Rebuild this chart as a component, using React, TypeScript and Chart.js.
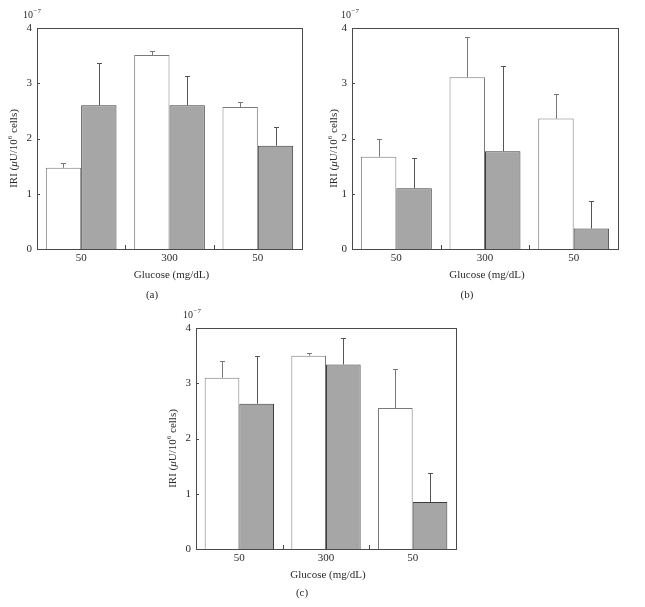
import React, { useEffect, useRef } from "react";
import { Chart, registerables } from "chart.js";

Chart.register(...registerables);

const FONT = '"Liberation Serif", "DejaVu Serif", serif';
Chart.defaults.font.family = FONT;

// Shared axis data
const categories = ["50", "300", "50"];
const yMin = 0;
const yMax = 4;
const yStep = 1;
const xTitle = "Glucose (mg/dL)";

// Panel (a)
const whiteA = [1.47, 3.51, 2.57];
const whiteErrA = [0.08, 0.07, 0.09];
const grayA = [2.6, 2.6, 1.87];
const grayErrA = [0.77, 0.53, 0.34];

// Panel (b)
const whiteB = [1.67, 3.11, 2.36];
const whiteErrB = [0.32, 0.73, 0.44];
const grayB = [1.1, 1.77, 0.37];
const grayErrB = [0.54, 1.55, 0.5];

// Panel (c)
const whiteC = [3.1, 3.5, 2.55];
const whiteErrC = [0.31, 0.05, 0.71];
const grayC = [2.63, 3.34, 0.85];
const grayErrC = [0.86, 0.47, 0.53];

type Panel = {
  caption: string;
  left: number;
  top: number;
  width: number;
  height: number;
  area: { l: number; r: number; t: number; b: number };
  yTitleX: number;
  expX: number;
  expY: number;
  captionX: number;
  captionY: number;
  white: number[];
  whiteErr: number[];
  gray: number[];
  grayErr: number[];
};

const panels: Panel[] = [
  {
    caption: "(a)", left: 0, top: 0, width: 320, height: 300,
    area: { l: 37, r: 302, t: 28, b: 249 },
    yTitleX: 14, expX: 23, expY: 15, captionX: 152, captionY: 295,
    white: whiteA, whiteErr: whiteErrA, gray: grayA, grayErr: grayErrA,
  },
  {
    caption: "(b)", left: 320, top: 0, width: 325, height: 300,
    area: { l: 32, r: 298, t: 28, b: 249 },
    yTitleX: 14, expX: 21, expY: 15, captionX: 147, captionY: 295,
    white: whiteB, whiteErr: whiteErrB, gray: grayB, grayErr: grayErrB,
  },
  {
    caption: "(c)", left: 150, top: 300, width: 330, height: 307,
    area: { l: 46, r: 306, t: 28, b: 249 },
    yTitleX: 23, expX: 33, expY: 15, captionX: 152, captionY: 293,
    white: whiteC, whiteErr: whiteErrC, gray: grayC, grayErr: grayErrC,
  },
];

const TEXT = "#2a2a2a";

function makePlugin(p: Panel) {
  return {
    id: "decor",
    afterDatasetsDraw(chart: any) {
      const ctx = chart.ctx as CanvasRenderingContext2D;
      const a = chart.chartArea;
      const xs = chart.scales.x;
      const ys = chart.scales.y;
      ctx.save();
      // error bars
      const errs = [p.whiteErr, p.grayErr];
      const vals = [p.white, p.gray];
      const errColors = ["#777", "#555"];
      for (let d = 0; d < 2; d++) {
        const meta = chart.getDatasetMeta(d);
        meta.data.forEach((bar: any, i: number) => {
          const x = Math.round(bar.x) + 0.5;
          const y0 = ys.getPixelForValue(vals[d][i]);
          const y1 = Math.round(ys.getPixelForValue(vals[d][i] + errs[d][i])) + 0.5;
          ctx.strokeStyle = errColors[d];
          ctx.lineWidth = 1;
          ctx.beginPath();
          ctx.moveTo(x, y0);
          ctx.lineTo(x, y1);
          ctx.moveTo(x - 2.5, y1);
          ctx.lineTo(x + 2.5, y1);
          ctx.stroke();
        });
      }
      // frame
      ctx.strokeStyle = "#4a4a4a";
      ctx.lineWidth = 1;
      ctx.strokeRect(Math.round(a.left) + 0.5, Math.round(a.top) + 0.5,
        Math.round(a.right - a.left), Math.round(a.bottom - a.top));
      // y ticks inward
      ctx.beginPath();
      for (let v = yMin + yStep; v < yMax; v += yStep) {
        const y = Math.round(ys.getPixelForValue(v)) + 0.5;
        ctx.moveTo(a.left, y);
        ctx.lineTo(a.left + 3, y);
      }
      // x ticks between categories
      for (let i = 0; i < categories.length - 1; i++) {
        const x = Math.round((xs.getPixelForValue(i) + xs.getPixelForValue(i + 1)) / 2) + 0.5;
        ctx.moveTo(x, a.bottom);
        ctx.lineTo(x, a.bottom - 4);
      }
      ctx.stroke();

      ctx.fillStyle = TEXT;
      ctx.textBaseline = "middle";
      // x title
      ctx.font = `11px ${FONT}`;
      ctx.textAlign = "center";
      ctx.fillText(xTitle, (a.left + a.right) / 2 + 2, 275);
      // caption
      ctx.fillText(p.caption, p.captionX, p.captionY);
      // exponent label 10^-7
      ctx.textAlign = "left";
      ctx.font = `10px ${FONT}`;
      ctx.fillText("10", p.expX, p.expY);
      const w10 = ctx.measureText("10").width;
      ctx.font = `7px ${FONT}`;
      ctx.fillText("\u22127", p.expX + w10 + 0.5, p.expY - 4);

      // y title with superscript
      const segs: { t: string; f: string; dy: number }[] = [
        { t: "IRI (", f: `11px ${FONT}`, dy: 0 },
        { t: "\u03bc", f: `italic 11px ${FONT}`, dy: 0 },
        { t: "U/10", f: `11px ${FONT}`, dy: 0 },
        { t: "6", f: `7px ${FONT}`, dy: -4 },
        { t: " cells)", f: `11px ${FONT}`, dy: 0 },
      ];
      let total = 0;
      segs.forEach((s) => { ctx.font = s.f; total += ctx.measureText(s.t).width; });
      const cy = (a.top + a.bottom) / 2 + 10;
      ctx.translate(p.yTitleX, cy);
      ctx.rotate(-Math.PI / 2);
      let cx = -total / 2;
      segs.forEach((s) => {
        ctx.font = s.f;
        ctx.fillText(s.t, cx, s.dy);
        cx += ctx.measureText(s.t).width;
      });
      ctx.restore();
    },
  };
}

function PanelChart({ p }: { p: Panel }) {
  const ref = useRef<HTMLCanvasElement>(null);
  useEffect(() => {
    if (!ref.current) return;
    const chart = new Chart(ref.current, {
      type: "bar",
      data: {
        labels: categories,
        datasets: [
          {
            data: p.white,
            backgroundColor: "#ffffff",
            borderColor: "#7a7a7a",
            borderWidth: 1,
            categoryPercentage: 0.8,
            barPercentage: 1.0,
          },
          {
            data: p.gray,
            backgroundColor: "#a6a6a6",
            borderColor: "#3c3c3c",
            borderWidth: 1,
            categoryPercentage: 0.8,
            barPercentage: 1.0,
          },
        ],
      },
      options: {
        responsive: false,
        animation: false,
        devicePixelRatio: 1,
        layout: { padding: { left: 0, top: p.area.t, right: p.width - p.area.r, bottom: 0 } },
        plugins: { legend: { display: false }, tooltip: { enabled: false } },
        scales: {
          x: {
            grid: { display: false, drawTicks: false },
            border: { display: false },
            ticks: { font: { family: FONT, size: 11 }, color: TEXT, padding: 3 },
            afterFit: (s: any) => { s.height = p.height - p.area.b; },
          },
          y: {
            min: yMin,
            max: yMax,
            grid: { display: false, drawTicks: false },
            border: { display: false },
            ticks: { stepSize: yStep, font: { family: FONT, size: 11 }, color: TEXT, padding: 5 },
            afterFit: (s: any) => { s.width = p.area.l; },
          },
        },
      } as any,
      plugins: [makePlugin(p)],
    });
    return () => chart.destroy();
  }, [p]);
  return (
    <canvas
      ref={ref}
      width={p.width}
      height={p.height}
      style={{ position: "absolute", left: p.left, top: p.top, width: p.width, height: p.height, display: "block" }}
    />
  );
}

export default function App() {
  return (
    <div style={{ position: "absolute", left: 0, top: 0, width: 645, height: 607, background: "#fff" }}>
      {panels.map((p) => (
        <PanelChart key={p.caption} p={p} />
      ))}
    </div>
  );
}
